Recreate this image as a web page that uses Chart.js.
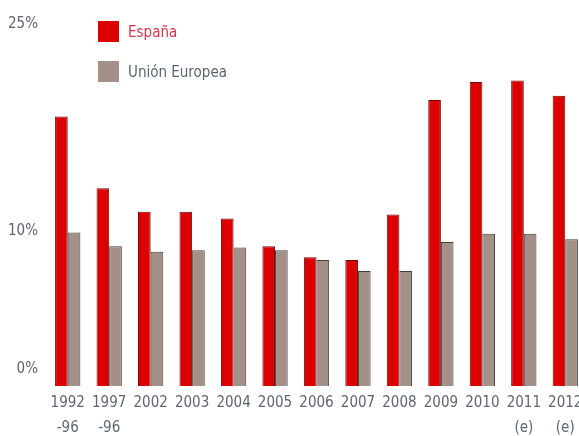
<!DOCTYPE html>
<html>
<head>
<meta charset="utf-8">
<script src="https://cdn.jsdelivr.net/npm/chart.js@4/dist/chart.umd.min.js"></script>
<style>
  html, body { margin: 0; padding: 0; background: #fff; overflow: hidden; }
  #wrap { position: relative; width: 600px; height: 436px; }
  #legend { position: absolute; left: 98px; top: 21px; font-family: "DejaVu Sans Condensed", sans-serif; font-size: 15px; }
  .item { display: flex; align-items: center; height: 21px; margin-bottom: 19px; }
  .box { width: 21px; height: 21px; margin-right: 9px; }
</style>
</head>
<body>
<div id="wrap">
  <canvas id="chart" width="600" height="436"></canvas>
  <div id="legend"></div>
</div>
<script>
// categories (x axis, two-line labels)
const categories = [["1992", "-96"], ["1997", "-96"], "2002", "2003", "2004", "2005", "2006", "2007", "2008", "2009", "2010", ["2011", "(e)"], ["2012", "(e)"]];
// unemployment rate, %
const spain = [18.3, 13.1, 11.4, 11.4, 10.9, 8.9, 8.1, 7.9, 11.2, 19.5, 20.8, 20.9, 19.8];
const eu = [9.9, 8.9, 8.5, 8.6, 8.8, 8.6, 7.9, 7.1, 7.1, 9.2, 9.8, 9.8, 9.4];
// y ticks shown
const yTicks = [0, 10, 25];

const colors = {
  spain: "#dd0000", spainEdge: "#6a0a0a", spainText: "#d8344c",
  eu: "#a39189", euEdge: "#4a3c36", euText: "#5b6570",
  tick: "#5d6670"
};
const FONT = "'DejaVu Sans Condensed', sans-serif";
const yMin = -1.23; // bars start a little below the 0% mark

const datasets = [
  { label: "España", data: spain, backgroundColor: colors.spain, borderColor: colors.spainEdge, text: colors.spainText },
  { label: "Unión Europea", data: eu, backgroundColor: colors.eu, borderColor: colors.euEdge, text: colors.euText }
].map(d => ({ ...d, borderWidth: 1, base: yMin, barPercentage: 1, categoryPercentage: 0.61 }));

new Chart(document.getElementById("chart").getContext("2d"), {
  type: "bar",
  data: { labels: categories, datasets },
  options: {
    responsive: false,
    animation: false,
    layout: { padding: { top: 24, right: 14, left: 0, bottom: 0 } },
    plugins: { legend: { display: false }, tooltip: { enabled: false } },
    scales: {
      x: {
        grid: { display: false, drawTicks: false },
        border: { display: false },
        ticks: { color: colors.tick, font: { family: FONT, size: 15, lineHeight: 1.65 }, padding: 5, maxRotation: 0, autoSkip: false },
        afterFit: (s) => { s.height = 50; }
      },
      y: {
        min: yMin, max: 25,
        grid: { display: false, drawTicks: false },
        border: { display: false },
        afterBuildTicks: (s) => { s.ticks = yTicks.map(v => ({ value: v })); },
        ticks: { color: colors.tick, font: { family: FONT, size: 15 }, padding: 9, callback: (v) => v + "%" },
        afterFit: (s) => { s.width = 47; }
      }
    }
  }
});

// legend stacked top-left, text in series colour
const legend = document.getElementById("legend");
datasets.forEach(d => {
  const row = document.createElement("div");
  row.className = "item";
  row.innerHTML = `<span class="box" style="background:${d.backgroundColor}"></span><span style="color:${d.text}">${d.label}</span>`;
  legend.appendChild(row);
});
</script>
</body>
</html>
